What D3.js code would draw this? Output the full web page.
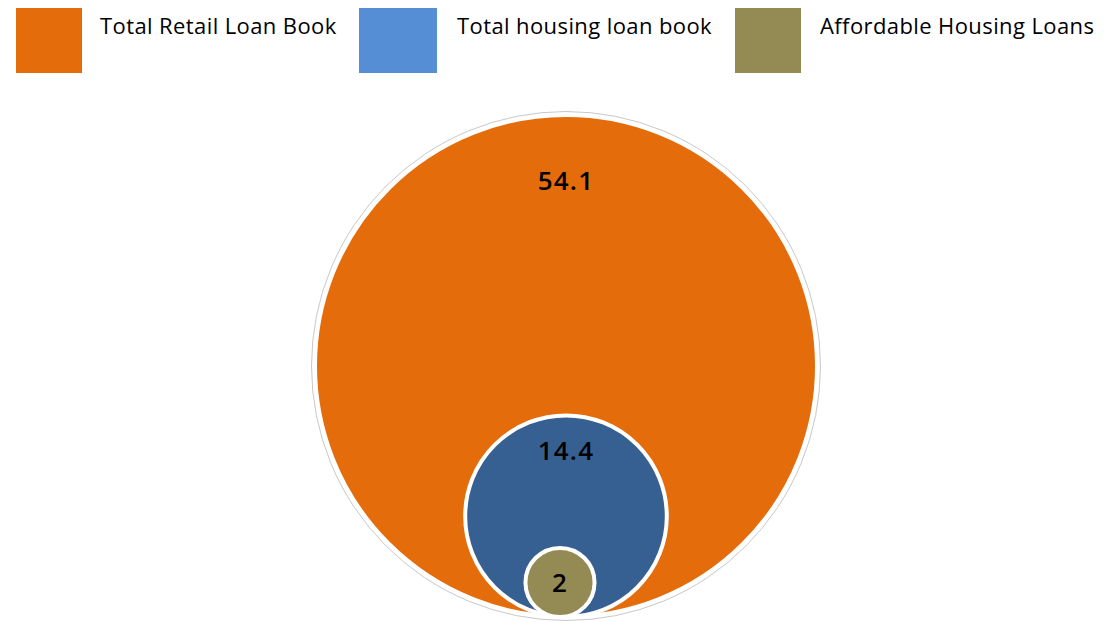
<!DOCTYPE html>
<html>
<head>
<meta charset="utf-8">
<script src="https://cdn.jsdelivr.net/npm/d3@7/dist/d3.min.js"></script>
<style>
  html, body { margin: 0; padding: 0; background: #ffffff; }
  svg { display: block; }
</style>
</head>
<body>
<svg id="chart" width="1119" height="622"></svg>
<script>
// Loan book segments (nested, largest first)
const categories = ["Total Retail Loan Book", "Total housing loan book", "Affordable Housing Loans"];
const values = [54.1, 14.4, 2];
const bubbleColors = ["#E46C0A", "#376092", "#948A54"];
const legendColors = ["#E46C0A", "#558ED5", "#948A54"];

const svg = d3.select("#chart");

// ---- legend ----
const legendLayout = [
  { x: 16,  w: 66, tx: 84 },
  { x: 359, w: 78, tx: 98 },
  { x: 735, w: 66, tx: 85 }
];
const legend = svg.append("g").attr("class", "legend");
categories.forEach((c, i) => {
  const L = legendLayout[i];
  const g = legend.append("g").attr("transform", `translate(${L.x},8)`);
  g.append("rect")
    .attr("width", L.w).attr("height", 65)
    .attr("fill", legendColors[i]);
  g.append("text")
    .attr("x", L.tx).attr("y", 26)
    .attr("font-family", "'Open Sans', sans-serif")
    .attr("font-size", 22)
    .attr("letter-spacing", 0.4)
    .attr("fill", "#000")
    .text(c);
});

// ---- nested bubbles, bottom aligned ----
const cx = 566, baseY = 617;
// bubble radius: power scale with a minimum bubble size
const r = d3.scalePow().exponent(0.77).domain([0, d3.max(values)]).range([16, 251]);

const data = values.map((v, i) => ({ name: categories[i], value: v, color: bubbleColors[i] }));
const xOf = (d, i) => i === 2 ? cx - 6 : cx;
const yOf = d => baseY - r(d.value);

const g = svg.append("g").attr("class", "bubbles");

// faint outline around the outermost bubble
g.append("circle")
  .attr("cx", cx).attr("cy", yOf(data[0]))
  .attr("r", r(values[0]) + 3.5)
  .attr("fill", "none").attr("stroke", "#c8c8c8").attr("stroke-width", 1);

g.selectAll("circle.bubble")
  .data(data)
  .join("circle")
  .attr("class", "bubble")
  .attr("cx", xOf)
  .attr("cy", yOf)
  .attr("r", d => r(d.value))
  .attr("fill", d => d.color)
  .attr("stroke", "#ffffff")
  .attr("stroke-width", 4);

// value labels: near the top of the larger bubbles, centred in the smallest
g.selectAll("text.value")
  .data(data)
  .join("text")
  .attr("class", "value")
  .attr("x", xOf)
  .attr("y", (d, i) => i === 2 ? yOf(d) : yOf(d) - r(d.value) * 0.8 + 15)
  .attr("dy", "0.36em")
  .attr("text-anchor", "middle")
  .attr("font-family", "'Open Sans', sans-serif")
  .attr("font-weight", 600)
  .attr("font-size", 26)
  .attr("letter-spacing", 1.2)
  .attr("fill", "#000")
  .text(d => d.value);
</script>
</body>
</html>
